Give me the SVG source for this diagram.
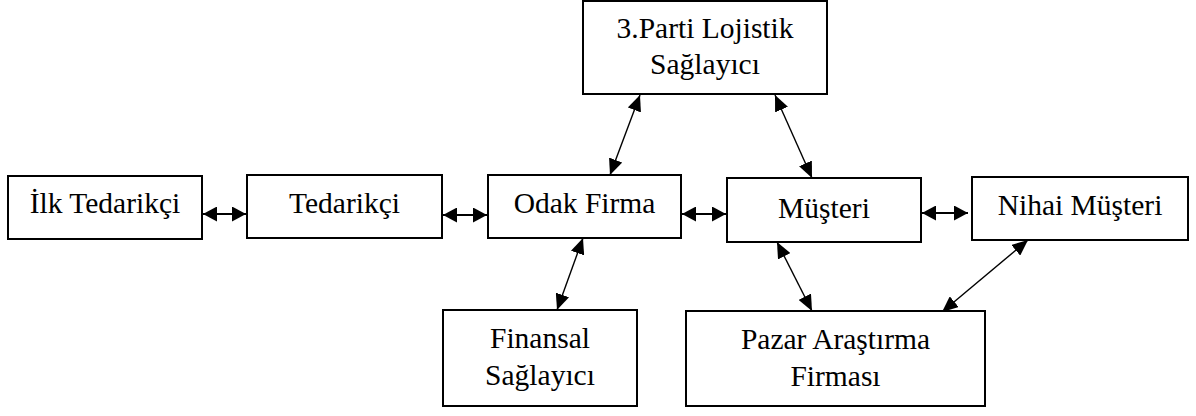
<svg xmlns="http://www.w3.org/2000/svg" width="1196" height="416" viewBox="0 0 1196 416">
<style>
.box{fill:#fff;stroke:#000;stroke-width:2}
.t{font-family:"Liberation Serif","Times New Roman",serif;font-size:29.5px;fill:#000;text-anchor:middle}
.c{stroke:#000;stroke-width:1.4;fill:none;marker-start:url(#ah);marker-end:url(#ah)}
.h{stroke-width:2;marker-start:url(#ahh);marker-end:url(#ahh)}
</style>
<defs>
<marker id="ah" viewBox="0 0 16 14" markerWidth="16" markerHeight="14" refX="16" refY="7" markerUnits="userSpaceOnUse" orient="auto-start-reverse">
<path d="M0,0 L16,7 L0,14 z" fill="#000"/>
</marker>
<marker id="ahh" viewBox="0 0 14 15" markerWidth="14" markerHeight="15" refX="14" refY="7.5" markerUnits="userSpaceOnUse" orient="auto-start-reverse">
<path d="M0,0 L14,7.5 L0,15 z" fill="#000"/>
</marker>
</defs>
<rect width="1196" height="416" fill="#fff"/>
<g id="connectors">
<line class="c h" x1="203" y1="214" x2="246" y2="214"/>
<line class="c h" x1="443" y1="215" x2="487" y2="215"/>
<line class="c h" x1="682" y1="214" x2="726" y2="214"/>
<line class="c h" x1="922" y1="213" x2="968" y2="213"/>
<line class="c" x1="640" y1="95" x2="610" y2="175"/>
<line class="c" x1="775" y1="95" x2="812" y2="178"/>
<line class="c" x1="583" y1="238" x2="557" y2="310"/>
<line class="c" x1="777" y1="242" x2="812" y2="311"/>
<line class="c" x1="1028" y1="240" x2="942" y2="312"/>
</g>
<g id="ilk-tedarikci">
<rect class="box" x="8" y="176" width="194" height="63"/>
<text class="t" x="105" y="213">İlk Tedarikçi</text>
</g>
<g id="tedarikci">
<rect class="box" x="247" y="175" width="195" height="63"/>
<text class="t" x="344.5" y="213">Tedarikçi</text>
</g>
<g id="odak-firma">
<rect class="box" x="488" y="175" width="193" height="63"/>
<text class="t" x="584.5" y="213">Odak Firma</text>
</g>
<g id="musteri">
<rect class="box" x="727" y="178" width="194" height="64"/>
<text class="t" x="824" y="218">Müşteri</text>
</g>
<g id="nihai-musteri">
<rect class="box" x="972" y="177" width="216" height="63"/>
<text class="t" x="1080" y="215">Nihai Müşteri</text>
</g>
<g id="lojistik">
<rect class="box" x="583" y="1" width="244" height="93"/>
<text class="t" x="705" y="38">3.Parti Lojistik</text>
<text class="t" x="705" y="74">Sağlayıcı</text>
</g>
<g id="finansal">
<rect class="box" x="443" y="310" width="194" height="96"/>
<text class="t" x="540" y="348">Finansal</text>
<text class="t" x="540" y="385">Sağlayıcı</text>
</g>
<g id="pazar">
<rect class="box" x="686" y="311" width="299" height="95"/>
<text class="t" x="835.5" y="349">Pazar Araştırma</text>
<text class="t" x="835.5" y="386">Firması</text>
</g>
</svg>
